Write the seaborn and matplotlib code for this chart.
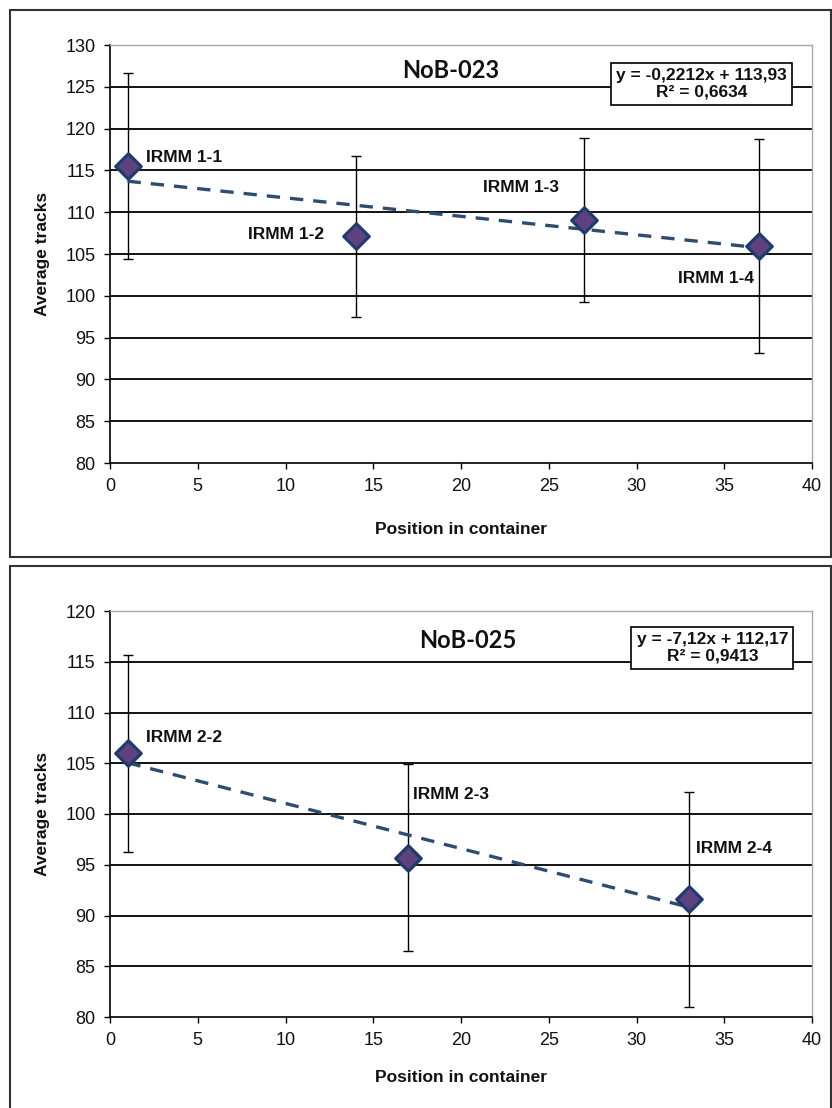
import numpy as np
import matplotlib
matplotlib.use("Agg")
import matplotlib.pyplot as plt
import seaborn as sns
from matplotlib.patches import Rectangle

# ---- data ----
top_name = "NoB-023"
top_labels = ["IRMM 1-1", "IRMM 1-2", "IRMM 1-3", "IRMM 1-4"]
top_pos = [1, 14, 27, 37]
top_avg = [115.5, 107.1, 109.1, 105.9]
top_err = [11.1, 9.6, 9.8, 12.8]
top_slope, top_icpt, top_r2 = -0.2212, 113.93, "0,6634"
top_eq = "y = -0,2212x + 113,93"

bot_name = "NoB-025"
bot_labels = ["IRMM 2-2", "IRMM 2-3", "IRMM 2-4"]
bot_pos = [1, 17, 33]
bot_avg = [106.0, 95.7, 91.6]
bot_err = [9.7, 9.2, 10.6]
bot_slope, bot_icpt, bot_r2 = -7.12, 112.17, "0,9413"
bot_eq = "y = -7,12x + 112,17"

# label offsets (pixels) relative to each point, and alignment
top_offsets = [(18, 9, "left"), (-32, 2, "right"), (-63, 32, "center"), (-5, -32, "right")]
bot_offsets = [(18, 16, "left"), (5, 63, "left"), (7, 51, "left")]

sns.set_theme(style="white")
plt.rcParams["font.family"] = ["Liberation Sans", "DejaVu Sans"]

DPI = 100
fig = plt.figure(figsize=(8.32, 11.08), dpi=DPI)

px = 72.0 / DPI  # pixel -> points


def panel(ax, name, labels, pos, avg, err, trend_x, trend_y, eq, r2,
          offsets, ylim, title_xy, box_xy):
    # grid lines
    for y in np.arange(ylim[0] + 5, ylim[1] + 0.1, 5):
        ax.axhline(y, color="black", lw=1.3, zorder=1)

    ax.errorbar(pos, avg, yerr=err, fmt="none", ecolor="black",
                elinewidth=1.0, capsize=3.5, capthick=1.0, zorder=3)

    sns.lineplot(x=trend_x, y=trend_y, ax=ax, color="#2F4B6E", lw=2.4,
                 linestyle=(0, (4, 3)), zorder=4)

    sns.scatterplot(x=pos, y=avg, ax=ax, marker="D", s=170,
                    color="#5E417F", edgecolor="#1F3B6B", linewidth=2.2,
                    zorder=5)

    for lab, x, y, (dx, dy, ha) in zip(labels, pos, avg, offsets):
        ax.annotate(lab, (x, y), xytext=(dx * px, dy * px),
                    textcoords="offset points", ha=ha, va="center",
                    fontsize=12.5, fontweight="bold", color="#111111",
                    zorder=6)

    ax.text(title_xy[0], title_xy[1], name, transform=ax.transAxes,
            ha="center", va="center", fontsize=17, fontweight="bold",
            family=["Lato", "DejaVu Sans"], color="#111111", zorder=6)

    ax.text(box_xy[0], box_xy[1], eq + "\n" + "R² = " + r2,
            transform=ax.transAxes, ha="center", va="center",
            multialignment="center", fontsize=12.5, fontweight="bold",
            linespacing=1.1, color="#111111", zorder=7,
            bbox=dict(boxstyle="square,pad=0.3", fc="white",
                      ec="black", lw=1.2))

    ax.set_xlim(0, 40)
    ax.set_ylim(*ylim)
    ax.set_xticks(np.arange(0, 41, 5))
    ax.set_yticks(np.arange(ylim[0], ylim[1] + 1, 5))
    ax.tick_params(axis="both", direction="out", length=4.5, width=1.0,
                   color="black", labelsize=13, pad=6, labelcolor="#111111")
    ax.tick_params(axis="y", left=True)
    ax.tick_params(axis="x", bottom=True)

    for side in ["left", "bottom"]:
        ax.spines[side].set_color("black")
        ax.spines[side].set_linewidth(1.2)
    for side in ["top", "right"]:
        ax.spines[side].set_color("#A8A8A8")
        ax.spines[side].set_linewidth(1.0)

    ax.set_xlabel("Position in container", fontsize=12.5, fontweight="bold",
                  color="#111111")
    ax.set_ylabel("Average tracks", fontsize=12.5, fontweight="bold",
                  color="#111111")
    ax.yaxis.set_label_coords(-0.085, 0.5)
    ax.set_facecolor("white")


# ---- top panel ----
ax1 = fig.add_axes([110 / 832, (1108 - 463) / 1108, 702 / 832, 418 / 1108])
tx1 = np.array([top_pos[0], top_pos[-1]])
panel(ax1, top_name, top_labels, top_pos, top_avg, top_err,
      tx1, top_slope * tx1 + top_icpt, top_eq, top_r2,
      top_offsets, (80, 130), (0.485, 0.94), (0.8425, 0.907))
ax1.xaxis.set_label_coords(0.5, -0.141)

# ---- bottom panel (trend fitted against point index) ----
ax2 = fig.add_axes([110 / 832, (1108 - 1017) / 1108, 702 / 832, 406 / 1108])
idx = np.array([1, len(bot_pos)])
tx2 = np.array([bot_pos[0], bot_pos[-1]])
panel(ax2, bot_name, bot_labels, bot_pos, bot_avg, bot_err,
      tx2, bot_slope * idx + bot_icpt, bot_eq, bot_r2,
      bot_offsets, (80, 120), (0.51, 0.9275), (0.858, 0.909))
ax2.xaxis.set_label_coords(0.5, -0.13)

# outer frames around each chart
fig.patches.append(Rectangle((10 / 832, (1108 - 557) / 1108), 821 / 832,
                             547 / 1108, transform=fig.transFigure,
                             fill=False, ec="#333333", lw=1.5))
fig.patches.append(Rectangle((10 / 832, -0.01), 821 / 832,
                             (1108 - 566) / 1108 + 0.01,
                             transform=fig.transFigure,
                             fill=False, ec="#333333", lw=1.5))

fig.savefig("out.png", dpi=DPI, facecolor="white")
